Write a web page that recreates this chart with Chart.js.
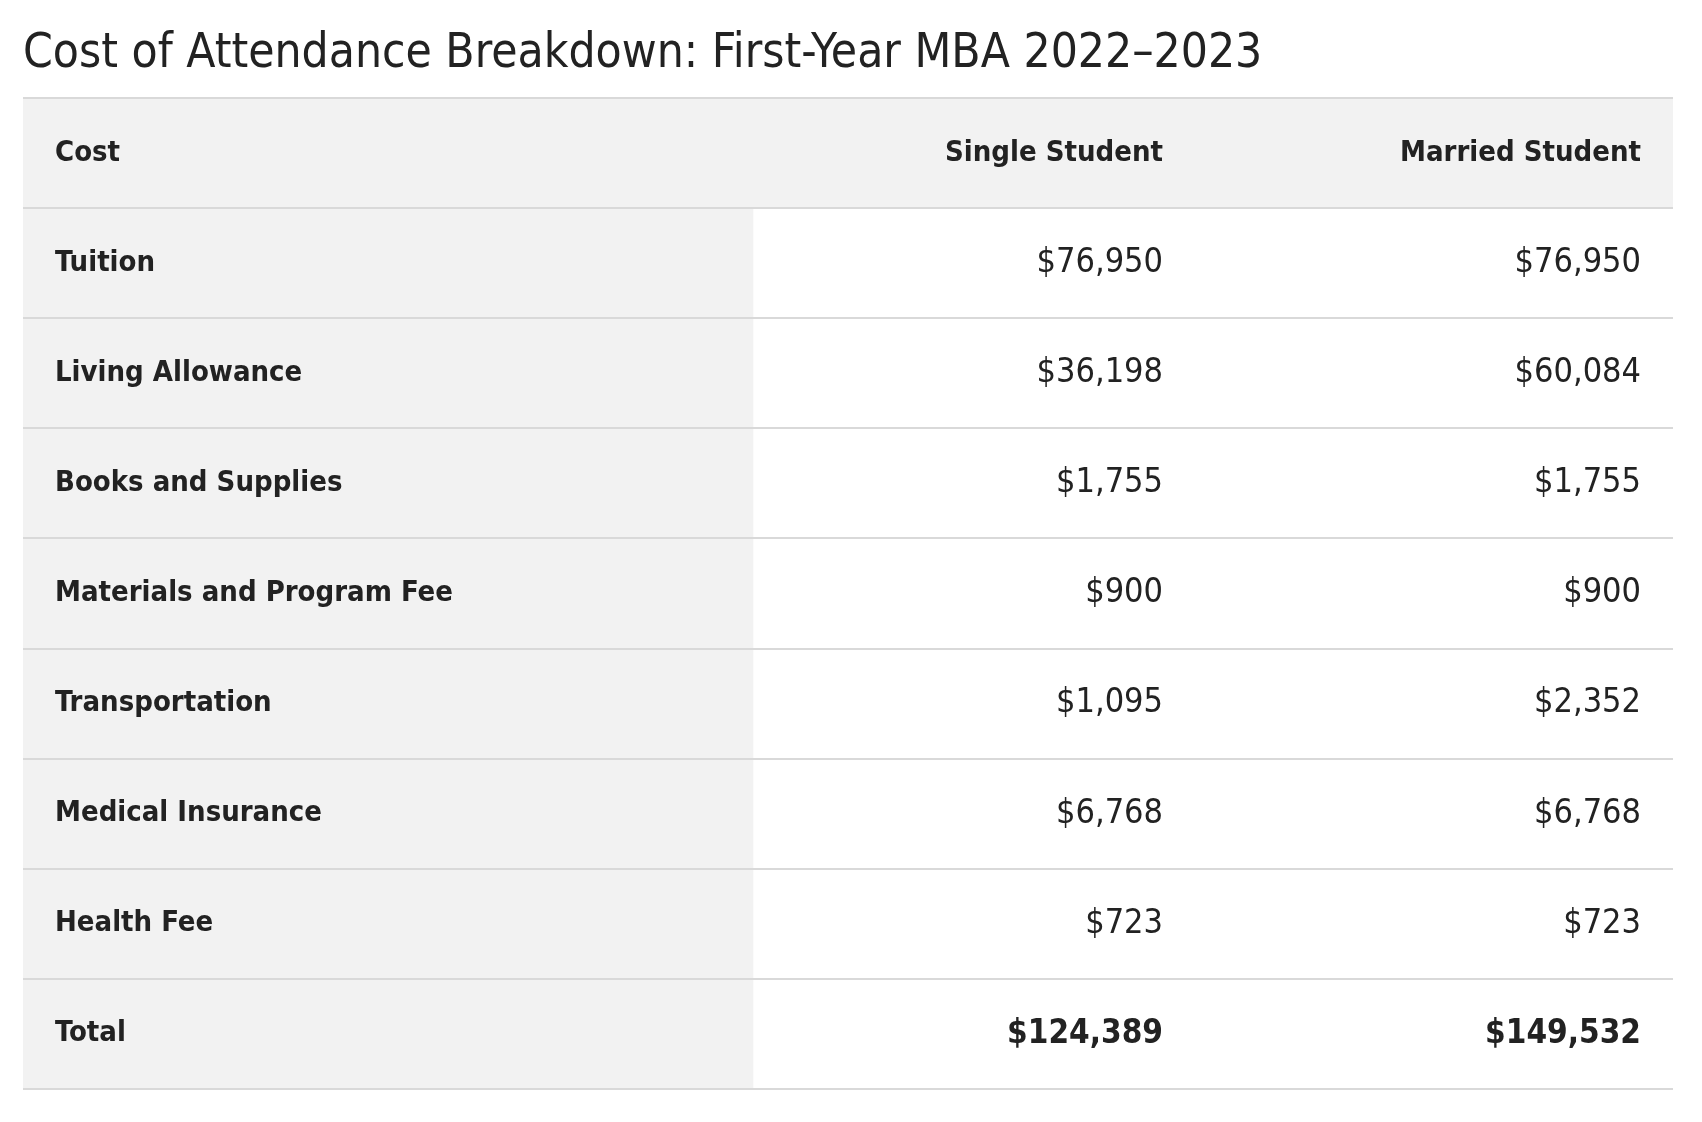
<!DOCTYPE html>
<html>
<head>
<meta charset="utf-8">
<script src="https://cdn.jsdelivr.net/npm/chart.js@4"></script>
<style>
  html, body { margin: 0; padding: 0; background: #fff; }
  #wrap { width: 1702px; height: 1122px; }
</style>
</head>
<body>
<div id="wrap"><canvas id="costChart"></canvas></div>
<script>
// Table data
const columnHeaders = ['Cost', 'Single Student', 'Married Student'];
const costItems = ['Tuition', 'Living Allowance', 'Books and Supplies', 'Materials and Program Fee',
  'Transportation', 'Medical Insurance', 'Health Fee', 'Total'];
const singleStudent = [76950, 36198, 1755, 900, 1095, 6768, 723, 124389];
const marriedStudent = [76950, 60084, 1755, 900, 2352, 6768, 723, 149532];

// layout (x scale units are table pixels)
const tableWidth = 1650;
const colEdges = [0, 730, 1172, 1650];
const cellPad = 32;
const FONT = '"Liberation Sans Narrow", "DejaVu Sans Condensed", "Roboto", sans-serif';
const TEXT = '#222222';

const rowLabels = [columnHeaders[0]].concat(costItems);
const fmt = v => '$' + v.toLocaleString('en-US');

// text in cells, placed with the chart scales
const cellText = {
  id: 'cellText',
  afterDatasetsDraw(chart) {
    const ctx = chart.ctx;
    const x = chart.scales.x, y = chart.scales.y;
    ctx.save();
    ctx.fillStyle = TEXT;
    ctx.textBaseline = 'middle';
    rowLabels.forEach((label, i) => {
      const cy = y.getPixelForValue(i);
      const isHead = i === 0;
      const isTotal = label === 'Total';
      ctx.font = 'bold 29px ' + FONT;
      ctx.textAlign = 'left';
      ctx.fillText(label, x.getPixelForValue(colEdges[0] + cellPad), cy);
      let vals;
      if (isHead) {
        vals = [columnHeaders[1], columnHeaders[2]];
        ctx.font = 'bold 29px ' + FONT;
      } else {
        vals = [fmt(singleStudent[i - 1]), fmt(marriedStudent[i - 1])];
        ctx.font = isTotal ? 'bold 33px ' + FONT : '34px ' + FONT;
      }
      ctx.textAlign = 'right';
      ctx.fillText(vals[0], x.getPixelForValue(colEdges[2] - cellPad), cy);
      ctx.fillText(vals[1], x.getPixelForValue(colEdges[3] - cellPad), cy);
    });
    ctx.restore();
  }
};

new Chart(document.getElementById('costChart'), {
  type: 'bar',
  data: {
    labels: rowLabels,
    datasets: [{
      label: 'shading',
      data: rowLabels.map((_, i) => i === 0 ? [colEdges[0], colEdges[3]] : [colEdges[0], colEdges[1]]),
      backgroundColor: '#f2f2f2',
      borderWidth: 0,
      barPercentage: 1,
      categoryPercentage: 1
    }]
  },
  options: {
    indexAxis: 'y',
    responsive: true,
    maintainAspectRatio: false,
    animation: false,
    events: [],
    layout: { padding: { left: 23, right: 29, top: 0, bottom: 33 } },
    plugins: {
      legend: { display: false },
      tooltip: { enabled: false },
      title: {
        display: true,
        text: 'Cost of Attendance Breakdown: First-Year MBA 2022\u20132023',
        align: 'start',
        color: TEXT,
        font: { family: FONT, size: 47.5, weight: 'normal', lineHeight: 1.2 },
        padding: { top: 26, bottom: 15 }
      }
    },
    scales: {
      x: { type: 'linear', display: false, min: 0, max: tableWidth },
      y: {
        type: 'category',
        z: 1,
        offset: true,
        ticks: { display: false },
        border: { display: false },
        grid: { color: '#d9d9d9', lineWidth: 2, drawTicks: false, offset: true, z: 1 },
        afterFit: s => { s.width = 0; }
      }
    }
  },
  plugins: [cellText]
});
</script>
</body>
</html>
